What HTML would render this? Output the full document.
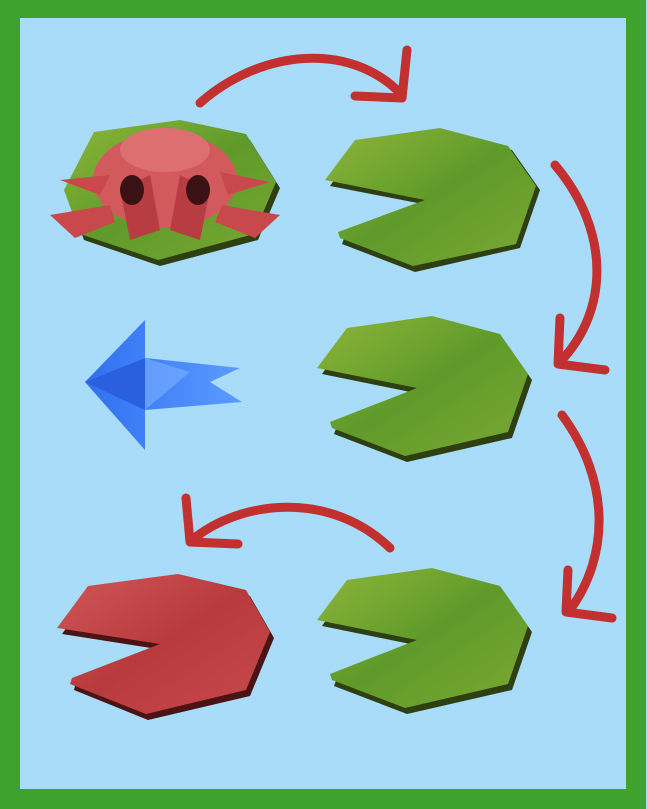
<!DOCTYPE html>
<html><head><meta charset="utf-8"><style>
html,body{margin:0;padding:0;background:#a8dcf8;}
svg{display:block;}
</style></head><body>
<svg width="648" height="809" viewBox="0 0 648 809">
<defs>
<linearGradient id="gp" x1="0" y1="0" x2="1" y2="1"><stop offset="0" stop-color="#8fb63a"/><stop offset="0.5" stop-color="#5f9a2a"/><stop offset="1" stop-color="#7aa832"/></linearGradient>
<linearGradient id="rp" x1="0" y1="0" x2="1" y2="1"><stop offset="0" stop-color="#d15858"/><stop offset="0.5" stop-color="#b83a3c"/><stop offset="1" stop-color="#c94a4c"/></linearGradient>
<linearGradient id="bf" x1="0" y1="0" x2="1" y2="0"><stop offset="0" stop-color="#2f6ff0"/><stop offset="1" stop-color="#5c9cff"/></linearGradient>
</defs>
<rect x="0" y="0" width="648" height="809" fill="#3fa22f"/>
<rect x="20" y="18" width="606" height="771" fill="#a8dcf8"/>
<rect x="646" y="0" width="2" height="809" fill="#a8dcf8"/>

<!-- pads -->
<g>
<polygon points="330,186 358,146 440,132 512,150 540,190 520,248 415,272 342,244 345,236 428,205" fill="#2e3f12"/>
<polygon points="325,180 355,140 440,128 508,146 536,186 516,244 413,266 340,238 338,232 425,200" fill="url(#gp)"/>
</g>
<g>
<polygon points="322,374 350,334 432,322 504,340 532,380 512,438 407,462 334,434 337,426 420,394" fill="#2e3f12"/>
<polygon points="317,368 347,328 432,316 500,334 528,374 508,432 405,456 332,428 330,422 417,388" fill="url(#gp)"/>
</g>
<g>
<polygon points="322,626 350,586 432,574 504,592 532,632 512,690 407,714 334,686 337,678 420,646" fill="#2e3f12"/>
<polygon points="317,620 347,580 432,568 500,586 528,626 508,684 405,708 332,680 330,674 417,640" fill="url(#gp)"/>
</g>
<g>
<polygon points="62,634 92,592 178,580 250,596 274,638 250,696 148,720 74,690 76,682 164,650" fill="#4a1414"/>
<polygon points="57,628 88,586 178,574 246,590 270,632 246,690 146,714 70,684 72,678 160,644" fill="url(#rp)"/>
</g>
<g>
<polygon points="68,196 98,138 180,124 250,140 280,188 258,240 160,266 84,240" fill="#2e3f12"/>
<polygon points="64,190 94,132 180,120 246,134 276,182 254,234 158,260 80,234" fill="url(#gp)"/>
</g>

<!-- frog -->
<g fill="#c8484c">
<ellipse cx="165" cy="180" rx="72" ry="48" fill="#d25a5c"/>
<ellipse cx="165" cy="150" rx="45" ry="22" fill="#de6f70"/>
<path d="M60,180 L110,175 L100,195 Z"/>
<path d="M50,215 L110,205 L115,222 L75,238 Z"/>
<path d="M270,182 L220,172 L228,195 Z"/>
<path d="M280,215 L222,205 L215,222 L255,238 Z"/>
<polygon points="120,190 150,175 160,230 130,240" fill="#b83d42"/>
<polygon points="210,190 180,175 170,230 200,240" fill="#b83d42"/>
<ellipse cx="132" cy="190" rx="12" ry="15" fill="#3a1214"/>
<ellipse cx="198" cy="190" rx="12" ry="15" fill="#3a1214"/>
</g>

<!-- fish -->
<g>
<polygon points="85,382 145,320 145,358 240,368 210,382 242,402 145,410 145,450" fill="url(#bf)"/>
<polygon points="85,382 145,358 145,410" fill="#2a60dd"/>
<polygon points="145,358 190,372 145,410" fill="#74aaff" opacity="0.7"/>
</g>

<!-- arrows -->
<g fill="none" stroke="#c23030" stroke-width="9" stroke-linecap="round" stroke-linejoin="round">
<g>
<path d="M200,103 C260,50 350,40 402,95"/>
<path d="M355,96 L402,98 L407,50"/>
</g>
<g>
<path d="M555,165 C610,230 610,310 560,362"/>
<path d="M560,318 L558,364 L605,370"/>
</g>
<g>
<path d="M562,415 C610,480 610,555 570,610"/>
<path d="M568,570 L566,612 L612,618"/>
</g>
<g>
<path d="M390,548 C330,490 240,500 192,540"/>
<path d="M186,498 L190,542 L238,544"/>
</g>
</g>
</svg>
</body></html>
